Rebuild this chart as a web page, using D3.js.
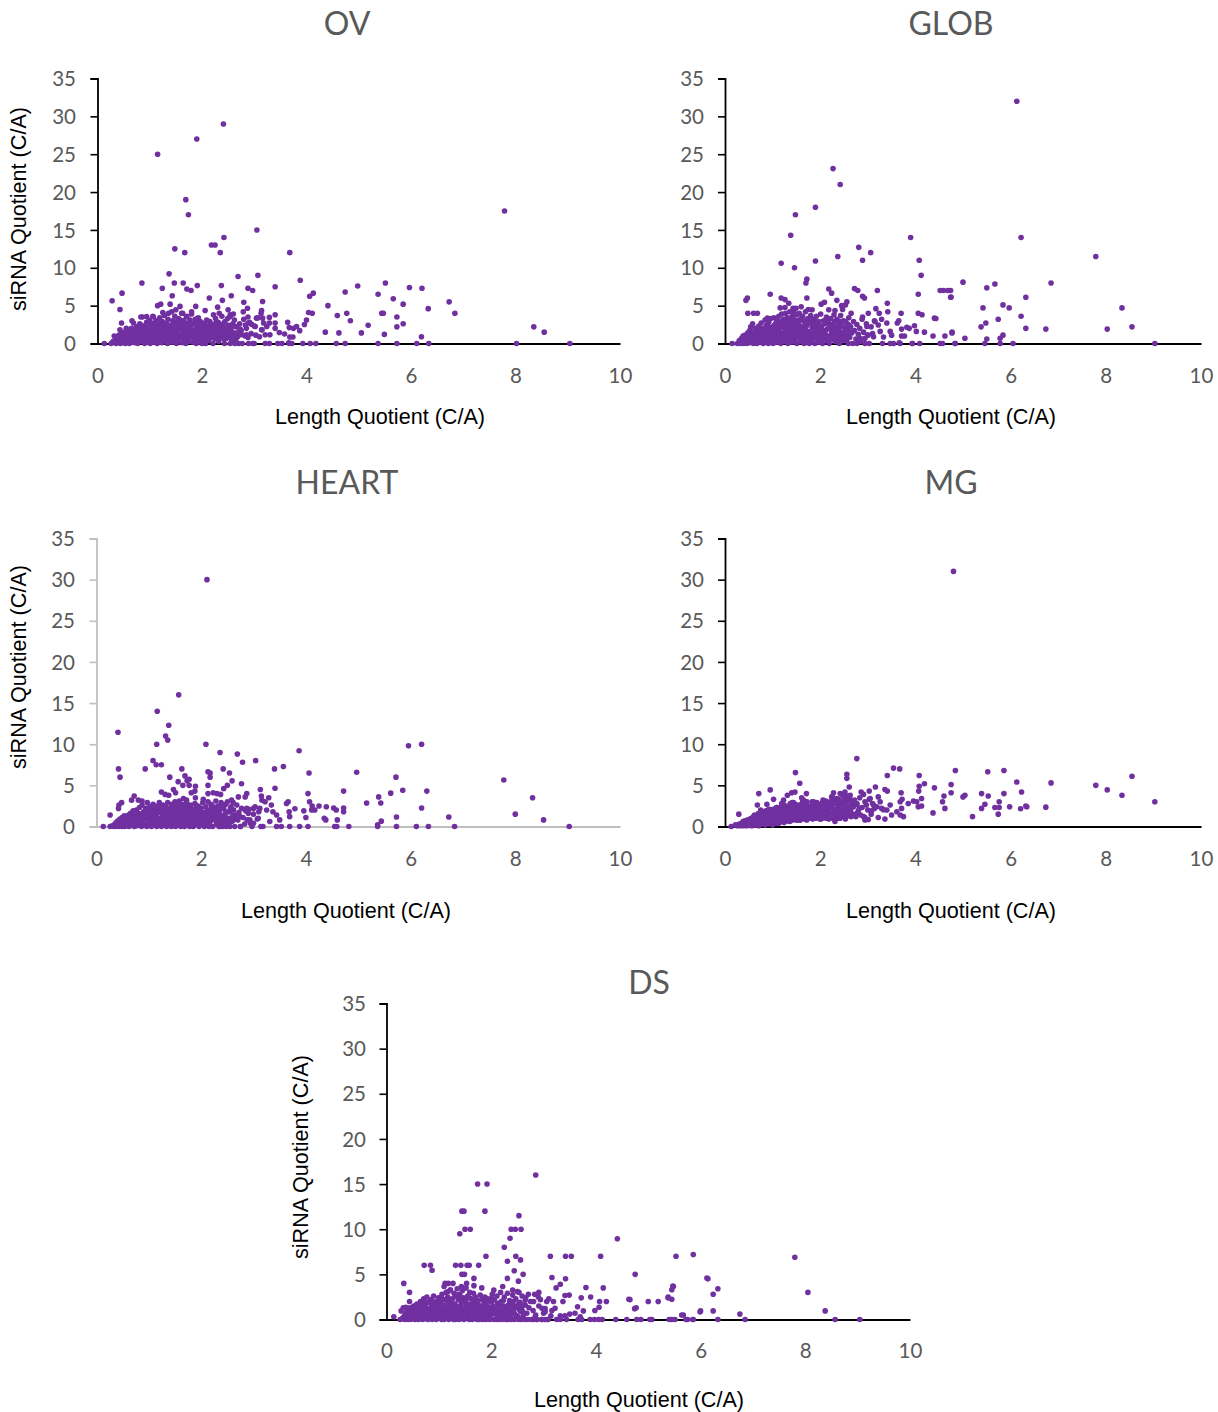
<!DOCTYPE html>
<html><head><meta charset="utf-8">
<script src="https://cdn.jsdelivr.net/npm/d3@7/dist/d3.min.js"></script>
<style>html,body{margin:0;padding:0;background:#fff}svg{display:block}</style>
</head><body><div id="chart"></div>
<script>
const panelTitles = ["OV","GLOB","HEART","MG","DS"];
const xTickValues = [0,2,4,6,8,10];
const yTickValues = [0,5,10,15,20,25,30,35];
const xAxisLabel = "Length Quotient (C/A)";
const yAxisLabel = "siRNA Quotient (C/A)";

// Length quotient of the crowded core of genes, shared by all five tissues.
const coreLength = [
.26,.3,.33,.35,.36,.38,.39,.41,.42,.44,.45,.46,.48,.49,.5,.52,.53,.54,.56,.57,
.58,.6,.61,.62,.63,.65,.66,.67,.69,.7,.71,.72,.74,.75,.76,.77,.79,.8,.81,.82,
.84,.85,.86,.87,.89,.9,.91,.92,.94,.95,.96,.97,.99,1,1.01,1.02,1.03,1.05,1.06,1.07,
1.08,1.09,1.1,1.12,1.13,1.14,1.15,1.16,1.17,1.19,1.2,1.21,1.22,1.23,1.24,1.26,1.27,1.28,1.29,1.3,
1.31,1.32,1.34,1.35,1.36,1.37,1.38,1.39,1.4,1.42,1.43,1.44,1.45,1.46,1.47,1.48,1.5,1.51,1.52,1.53,
1.54,1.55,1.56,1.58,1.59,1.6,1.61,1.62,1.63,1.64,1.66,1.67,1.68,1.69,1.7,1.72,1.73,1.74,1.75,1.77,
1.78,1.79,1.8,1.82,1.83,1.84,1.85,1.87,1.88,1.89,1.9,1.92,1.93,1.94,1.96,1.97,1.98,2,2.01,2.02,
2.03,2.05,2.06,2.07,2.09,2.1,2.11,2.13,2.14,2.15,2.17,2.18,2.19,2.21,2.22,2.24,2.25,2.26,2.28,2.29,
2.31,2.32,2.34,2.35,2.37,2.38,2.4,2.41,2.43,2.44,2.46,2.47,2.49,2.5,2.52,2.54,2.55,2.57,2.59,2.6,
2.62,2.64,2.66,2.68,2.7,2.72,2.75,2.77,2.8,2.83,2.85,2.88,2.91,2.94,2.97,3,3.03,3.07,3.1,3.14,
.47,.51,.55,.59,.62,.64,.68,.71,.73,.78,.83,.88,.93,.98,1.04,1.11,1.18,1.25,1.33,1.41,
.49,.6,.66,.75,.86,.92,1,1.04,1.09,1.15,1.19,1.24,1.28,1.33,1.37,1.42,1.47,1.51,1.55,1.6,
.7,.81,.9,.97,1.03,1.08,1.13,1.17,1.22,1.27,1.31,1.36,1.41,1.46,1.5,1.54,1.58,1.63,1.68,1.72,
1.01,1.07,1.12,1.18,1.23,1.29,1.34,1.39,1.44,1.49,1.53,1.57,1.62,1.66,1.71,1.76,1.81,1.86,1.91,1.95,
1.65,1.7,1.74,1.79,1.83,1.88,1.93,1.99,2.04,2.08,2.12,2.16,2.2,2.23,2.27,2.3,2.33,2.36,2.39,2.42,
1.86,1.91,1.97,2.01,2.06,2.12,2.16,2.23,2.27,2.33,2.36,2.42,2.45,2.48,2.51,2.53,2.56,2.58,2.61,2.65];

const ovCore = [
0,.3,.1,.6,0,.9,.2,1.1,.4,0,.7,1.3,.2,1,.5,1.5,0,.8,1.2,.3,
1.7,.6,0,1.3,.9,2,.2,1.5,.7,1.1,.1,1.8,.4,2.2,1,0,1.4,.6,2.6,1.9,
.3,1.2,3.5,.8,2.3,0,1.6,1,2.8,.5,1.9,.2,3.1,1.3,0,2.4,.7,1.7,3.6,1.1,
.2,2.1,1.4,3,.6,0,2.6,1.8,.9,3.4,.3,2.2,1.2,.1,2.9,1.6,.7,3.7,2,.4,
1.3,2.7,0,3.2,.9,1.9,.5,2.4,1.5,4.2,.2,3,1.1,2.2,.6,3.6,1.7,0,2.8,1.3,
.4,3.3,2,.8,2.5,1.2,4,.1,1.8,3,.6,2.3,1.4,0,3.5,.9,2.7,1.6,.3,3.1,
2.1,1,3.9,.2,1.5,2.6,.7,3.2,1.9,0,2.4,1.2,3.4,.5,1.7,2.9,.9,0,2.2,1.4,
.6,2.7,1.8,0,3.1,1.1,2.3,.4,1.6,2.9,.8,2,1.3,0,2.5,1.7,.6,3.3,2.1,1,
2.8,.3,1.7,2.4,.9,3.6,1.3,2.1,0,2.9,1.5,.7,3.3,2.2,1.1,3.8,1.8,.5,2.6,1.2,
3.1,.9,2.2,1.4,0,2.6,1.7,0,3.2,1,2,.8,2.8,1.3,0,2.3,1.1,3.4,.9,1.8,
.5,.9,1.1,.4,1.4,.7,1,1.7,.5,1.2,2.4,1.6,2.1,1.5,2.7,1.9,2.4,1.1,2.2,1.6,
.2,1.2,.5,1.6,.6,1.4,.9,2,1.1,2.7,1.6,.8,2.4,1.1,1.9,.7,2.6,1.4,2.1,.9,
.4,1.7,.7,1.4,2.2,.9,1.5,2.9,.5,1.9,2.3,1.3,.8,2.9,2.1,1.1,3.1,1.5,2,.7,
.8,1.5,2.6,1,1.9,.5,2.4,1.7,.9,2.5,1.3,2.2,.8,2.8,1.5,2.4,1,1.7,2.7,1.2,
1.2,2.2,.6,1.6,2.6,1,1.6,2.4,.5,1.9,1.4,2.6,.9,1.9,1.2,2.4,.7,1.9,1.4,2.7,
1.5,.5,1.9,1.1,2.2,.7,1.8,1.4,2.7,1.2,2.2,.6,1.9,1,2.4,1.6,.8,2.2,1.4,.6];

const globCore = [
0,.4,0,.7,.2,1,0,.5,1.1,.2,.8,0,1.4,.4,.9,1.7,.1,2.2,.6,1.2,
2.6,0,1.5,.8,2,.3,1.2,0,1.8,.6,2.3,1,.2,1.6,2.7,.5,1.3,0,2,.9,
3.1,.3,1.6,2.4,.7,1.1,0,2.8,1.4,.4,3.3,1.9,.8,2.2,0,1.2,3.4,.6,2.6,1.7,
.2,3,1,2,3.6,.5,1.5,2.7,0,3.9,.8,2.3,1.3,3.2,.3,1.8,4,.7,2.5,1.1,
3.4,0,2,1.4,4.2,.6,2.9,1.7,.2,3.6,1,2.3,4.1,.5,1.3,3.1,2,0,3.8,.9,
2.6,1.5,4,.3,3.2,1.1,2.2,.7,3.6,1.8,0,2.9,1.3,4.2,.5,2.4,1.6,3.3,.9,0,
2.8,1.2,3.7,.4,2.1,1.6,3.2,.8,2.5,0,1.4,3.6,2,.6,1.1,2.9,.2,1.7,3.9,.9,
2.3,0,1.5,3,.7,2.6,1.2,3.5,.4,1.9,2.8,.9,0,2.2,3.3,1.4,.6,2.5,1.8,3.8,
.3,2.1,1.1,3.2,.7,2.7,0,1.6,3.7,.9,2.3,1.4,3,.4,2,1.1,.5,2.6,1.6,3.4,
.8,2.2,1.4,0,2.9,1.7,.6,2.5,1.2,2,.3,3.2,1.5,.7,2.6,1.1,0,2.2,1.3,3,
.6,1,.3,1.3,.7,1.6,.4,1.1,1.9,.6,1.3,2.2,1.6,1,2.4,1.9,2.9,1.2,2.4,1.7,
.3,.9,1.6,.4,1.4,2.1,.7,1.5,2.5,1.4,2.2,.9,2.8,1.6,2.2,1.1,2.7,1.3,3,.8,
.7,1.4,.5,1.9,1.2,2.6,1.7,.9,2.9,1.3,2.2,.6,3,1.6,2.7,.9,2.3,1.2,2.8,1.6,
.6,2.3,1.4,2.9,.9,2.4,1.5,3.4,1,2.6,1.8,.7,3.1,2.1,1.2,2.9,1.5,.8,2.4,1.3,
1,2.2,.7,2.7,1.6,3.1,1.1,2.3,.5,1.7,3,1,2.3,.6,1.7,2.9,1,2.1,1.4,2.9,
1,2.6,.5,1.9,1.2,3,.5,1.9,1,2.9,1.6,.5,2.3,1.3,.7,2.9,1.9,1,2.4,1.5];

const heartCore = [
0,.1,0,.3,0,.5,.1,.7,0,.2,.9,.4,0,1.1,.3,.6,1.3,0,.8,.2,
1,.5,1.4,0,.7,1.6,.2,1.1,.4,1.9,.8,0,1.3,.6,2,.1,1,1.6,.3,2.3,
.7,1.3,0,2.6,.5,1.8,1,.2,2.2,1.4,0,2.9,.7,1.7,.3,2.4,1.1,0,1.9,.6,
2.7,1.2,.2,2.1,.8,1.5,0,2.5,1,.4,2.9,1.7,.6,2.2,0,1.2,2.6,.9,1.9,.3,
1.4,2.4,0,.7,2.9,1.1,1.8,.3,2.2,1,0,2.7,1.5,.5,2,1.2,3,0,.8,1.7,
2.5,.3,1.3,3.1,.9,2,0,1.6,2.7,.5,1.1,2.3,0,1.9,.7,2.9,1.4,.2,2.2,1,
0,1.7,2.6,.6,1.2,2.1,0,.9,2.8,1.5,.3,1.9,1.1,2.5,0,.7,1.6,2.2,.4,1.3,
2.9,.8,0,1.7,2.4,1.1,.4,3,1.5,0,2,.7,2.7,1.2,0,2.2,.9,1.7,3.1,.3,
1.3,2.5,0,1.9,.7,2.9,1.2,0,2.2,.5,1.6,2.7,1,3,.3,1.8,0,2.4,1.1,.7,
2,0,1.4,2.6,.8,1.7,0,2.2,1.1,.3,1.9,.8,2.1,.4,0,1.5,2.4,.9,1.8,0,
.3,.6,.9,.3,1.1,.5,.7,1.3,.5,1,1.5,.8,1.9,1.2,2.3,1.4,.8,1.9,.6,1.5,
.5,.9,.4,1.2,.5,1.6,.8,1.4,.4,1.9,1,2.4,.6,1.5,.9,2.1,1.3,.6,2.5,1.1,
.9,.5,1.3,2,.6,1.4,.9,1.8,.4,1.2,2.3,.7,1.5,.9,2.2,1.4,.6,2,1.2,2.5,
1.6,.4,1.1,1.8,.5,2.2,.9,1.4,2.5,.6,1.8,1.1,2.3,.5,1.4,.9,2,1.5,.5,2.4,
.8,2,1.3,.5,1.5,.9,2.4,1.1,.6,1.7,1.2,.5,2.4,1.6,.8,2,1,1.4,2.5,.6,
1.2,2.3,.5,1.4,.8,1.9,.6,2.4,1,1.5,.6,2.4,1.2,.5,1.8,1,2.2,.6,1.4,.9];

const mgCore = [
.1,.3,.1,.4,.2,.6,.1,.3,.7,.2,.5,.1,.8,.3,.6,.2,.9,.4,.1,.7,
.3,.9,.5,.2,1.1,.6,.3,.8,1.2,.4,.1,1,.6,1.3,.3,.8,1.1,.5,1.4,.7,
.2,1,1.5,.5,.8,1.3,.3,1.6,.7,1.1,.4,1.4,.9,.2,1.7,.6,1.2,.9,1.6,.4,
1,1.8,.7,1.3,.4,1.6,1,2,.6,1.3,1.8,.8,1.1,2.2,.5,1.5,.9,1.9,1.2,.7,
1.6,2.1,.9,1.3,.6,1.8,2.4,1.1,1.5,.8,2,1.3,2.6,.9,1.7,1.1,2.2,1.4,.8,1.9,
1.1,2.4,1.5,.8,2,1.3,2.7,1.7,1,2.2,1.4,.9,1.9,2.6,1.2,1.6,2.1,1,2.4,1.4,
1.8,1.1,2.2,1.5,2.7,.9,1.7,2.1,1.3,2.5,1,1.9,1.4,2.3,1.1,1.7,2.6,1.3,2,.9,
1.5,2.3,1.1,1.8,2.8,1.3,2,1,2.5,1.6,2.1,.9,1.7,3,1.2,2.3,1.5,2.7,1,2,
1.4,2.9,1.8,1.1,2.4,3.3,1.6,2.1,1.2,3,1.9,2.6,1.3,3.6,2.2,1.5,3.1,1.8,2.5,1.3,
3.4,2,2.8,1.5,2.4,3.2,1.2,2.7,1.9,3.5,1.4,2.3,3.9,1.1,2.6,2,3.3,1.5,2.8,2.2,
.7,.2,1,.5,1.4,.3,.9,1.6,.5,1.8,.5,1.2,2.1,.6,1.7,1,2.4,.7,1.9,2.9,
.5,1.2,.2,.9,1.9,.4,1.4,.7,2.3,1.2,.6,2.6,1.4,.8,2.2,1.1,2.7,.9,2.3,1.5,
1.5,.6,2,.4,1.3,2.3,.6,1.6,.9,2.5,1.2,.7,2.8,1.6,.8,2.6,1.2,3,1.5,.8,
2.1,.6,1.5,.9,2.6,1.2,.7,1.9,2.9,1,1.7,.8,2.3,1.5,3,1.1,2.4,1,2.8,1.6,
3.2,.9,1.9,1.2,3,1.4,2.9,.9,2.3,1.1,3.1,1.7,1,2.6,1.3,3.2,2.1,1,2.8,1.6,
3,1.4,2.4,1.1,3.2,1.7,2.6,1.2,3.5,1.8,2.7,1,3.9,1.6,2.9,.9,3.7,2.1,3.2,1.2];

const dsCore = [
0,.1,.3,0,.6,.2,.9,0,1.1,.4,1.3,0,.7,1,.2,1.5,.5,0,1.2,.8,
1.7,.3,0,1.1,.6,2,.2,1.4,0,.9,2.3,.5,1.6,.1,1.2,2.5,0,.7,1.9,1,
.3,2.2,1.3,0,.8,2.6,1.6,.4,1.1,0,2,.6,2.4,1.4,.2,.9,1.8,0,2.8,1.2,
.5,2.2,0,1.6,.9,3,.3,1.3,2.5,0,.7,1.9,3.3,1,.4,2.3,1.5,0,2.9,.8,
1.7,0,1.1,3.4,.5,2.2,1.4,0,2.8,.9,1.8,.3,3.2,1.2,2.4,0,.7,2,3.5,1.5,
.4,2.6,1,0,3,1.7,.6,2.3,1.3,0,2.9,.9,1.9,.2,2.5,1.2,0,2.1,.7,1.6,
0,2.7,.8,1.4,2.2,0,1.1,.5,2.5,1.8,0,.9,2.3,1.4,.3,0,2,1.1,.6,2.8,
1.5,0,2.2,.8,1.2,0,2.6,1.7,.4,0,1.1,3,2,0,.7,1.5,2.5,.3,0,1.3,
2.9,0,1,2.1,.5,0,1.7,2.7,.8,0,1.3,2.3,.4,3.1,0,1.1,1.9,0,2.6,.9,
1.6,0,2.4,.7,0,1.3,2,0,1,2.8,.5,0,1.5,2.2,0,.7,1.2,0,2.3,.4,
.4,.8,1.4,.3,1.2,.6,1.6,.9,2,.5,1.2,2,.7,1.5,2.4,1,2.1,1.4,.6,2.2,
.7,.1,1.3,.5,1.5,.3,.8,2.1,1.3,.6,2.3,1,1.7,.4,2.7,1.4,.7,2.1,1.1,.5,
1,.4,1.6,.7,1.9,.5,1.2,2.1,.8,1.6,2.6,1.1,.5,2,1.3,.7,2.4,1,1.8,.4,
1.4,.6,2.2,1,1.7,.5,2.7,1.2,.6,2,1,1.6,.4,2.2,.8,1.5,.5,2,1.2,.7,
1.7,.6,2.1,1,.4,1.6,.8,2.3,1.2,.6,1.8,.9,.4,2.1,1.3,.7,1.6,.3,1.1,2,
.9,1.5,.3,2,1,.5,1.7,.8,1.3,.4,1.9,1,.6,1.5,.3,1.8,.9,1.3,.4,1.6];

// Sparse points read individually: [length quotient, siRNA quotient]
const ovSparse = [[1.15,25],[1.9,27],[2.41,29],[1.69,19],[1.74,17],[3.05,15],[2.42,14],[2.18,13],[2.25,13],[1.48,12.5],[1.67,12],[2.35,12],[3.68,12],[1.37,9.2],[3.07,9],[2.69,8.85],[3.88,8.35],[.85,8],[1.47,8],[1.64,8],[1.91,7.65],[2.37,7.65],[1.24,7.3],[1.71,7.2],[1.79,7],[2.88,7.3],[2.97,7],[3.4,7.5],[.47,6.65],[.28,5.65],[.43,4.5],[1.43,6.3],[2.14,6],[2.39,5.7],[2.56,6.3],[2.8,5.45],[3.16,5.55],[4.13,6.65],[4.06,6.25],[4.74,6.8],[4.98,7.6],[5.37,6.5],[5.51,8],[5.66,5.9],[5.97,7.4],[6.21,7.3],[5.85,5.2],[6.33,4.6],[6.73,5.5],[6.84,4],[7.79,17.5],[8.35,2.2],[8.55,1.5],[4.41,5],[4.59,3.7],[4.77,4],[4.84,3],[5.18,2.4],[5.05,1.4],[4.36,1.5],[4.62,1.4],[5.44,4],[5.47,4],[5.49,1.2],[5.73,3.5],[5.73,2.2],[5.85,2.6],[6.2,.9],[4.04,4.1],[4.11,4],[4,3.1],[3.96,2.5],[3.81,2.25],[3.87,1.7],[3.93,0],[4.07,0],[4.18,0],[4.57,0],[4.74,0],[5.37,0],[5.73,0],[6.11,0],[6.34,0],[8.02,0],[9.04,0],[2.79,4.2],[2.87,4.65],[2.88,3.5],[2.83,2.45],[2.89,2.7],[2.95,2.55],[2.73,1.9],[2.76,1.15],[2.85,1.15],[3.02,2.25],[3.04,3.35],[3.13,4],[3.14,4.35],[3.16,3.35],[3.18,2.7],[3.15,1.8],[3.24,2.25],[3.29,3.45],[3.29,2.7],[3.4,3.8],[3.4,2.7],[3.4,2],[3.21,1.15],[3.3,1.15],[3.48,1.45],[3.58,1.25],[3.64,2.8],[3.67,2.1],[3.75,2],[3.68,.85],[3.74,.85],[3.66,.1],[2.6,3.9],[2.5,4.45],[2.54,3.55],[2.65,2.25],[2.68,.9],[2.54,0],[2.63,0],[2.89,0],[3,0],[3.21,0],[3.29,0],[3.45,0],[3.53,0],[3.67,0],[3.72,0],[1.15,5],[1.21,5.2],[1.39,5.2],[1.58,4.9],[1.88,4.9],[2.06,4.35],[2.3,4.8],[2.33,4],[1.25,4.1],[1.36,4],[1.5,4.45],[1.63,4],[1.71,3.6],[1.8,4.2],[.66,3],[.69,2.7],[.83,3.5],[.94,3.55],[1.07,3.5],[.46,2.7],[.43,1.8],[.55,2],[.32,1],[.13,0],[.3,.2],[2.22,3.8],[1.91,3.3]];

const globSparse = [[.15,0],[2.27,23.1],[2.42,21],[1.48,17],[1.9,18],[1.38,14.3],[2.81,12.7],[3.06,12],[2.89,11],[2.37,11.5],[1.9,10.9],[1.18,10.6],[1.46,10],[3.9,14],[4.08,11],[4.12,9],[1.72,8.5],[1.7,8],[2.18,7.2],[2.24,6.65],[2.72,7.25],[2.79,7],[3.2,7],[4.59,7],[4.74,7],[4.74,6.1],[4.06,6.5],[2.89,6.25],[2.93,6],[.47,6],[.44,5.7],[.95,6.5],[1.18,6],[1.26,5.8],[1.34,5.3],[1.72,6],[2.35,5.7],[2.56,5.5],[2.53,5.1],[2.09,5.45],[2.02,5.2],[3.41,5.3],[2.45,5],[2.47,4.5],[1.16,4.7],[1.26,4.75],[1.43,4.65],[1.49,4.65],[1.6,4.85],[1.75,4.5],[1.83,4.45],[2.18,4.45],[2.31,4.35],[.48,4],[.6,4],[.68,4],[2.65,4],[3.01,4],[3.17,4.6],[3.24,4],[3.42,4.2],[3.7,4],[4.06,4],[4.14,3.8],[4.4,3.35],[.89,3.35],[2.89,3.5],[3.62,2.7],[3.65,3],[3.98,2.35],[3.82,2.15],[3.87,2],[3.71,1.9],[4.02,1.6],[4.19,1.5],[4.37,1],[4.62,1],[4.77,1.5],[4.57,0],[4.84,0],[3.94,0],[4.09,0],[3.47,0],[3.54,0],[3.31,0],[3.68,0],[3.15,2.9],[3.22,2.45],[3.29,3.2],[3.4,2.7],[3.12,.9],[3.26,1.6],[3.33,.85],[3.47,1.6],[3.5,1.1],[2.98,2.25],[3,1.1],[2.84,.7],[2.77,0],[2.94,0],[2.59,0],[3.71,1],[3.77,1],[3.66,.1],[6.13,32],[6.22,14],[7.79,11.5],[6.85,8],[5,8.1],[5.67,7.85],[5.5,7.35],[4.68,7],[4.52,7],[4.75,6.15],[6.32,6.1],[5.84,5.1],[5.97,4.7],[5.42,4.7],[8.34,4.7],[6.22,3.6],[5.74,3.2],[8.55,2.2],[8.03,1.9],[6.74,1.9],[6.32,2],[5.48,2.7],[5.38,2.2],[4.77,1.4],[5.04,.7],[5.84,1.1],[5.78,.7],[5.5,.6],[9.03,0],[6.05,0],[5.78,0],[5.46,0],[4.83,0],[4.52,0],[3.93,0],[4.43,3.3]];

const heartSparse = [[1.57,16],[1.16,14],[1.38,12.3],[.41,11.45],[1.32,11],[1.36,10.5],[1.15,10],[2.09,10],[2.36,9],[2.69,8.8],[3.87,9.2],[1.08,8],[2.79,7.8],[3.04,8],[1.14,7.5],[1.24,7.5],[.42,7],[.93,7],[1.63,7],[2.42,7],[3.4,7],[3.57,7.3],[.45,6],[1.4,6],[1.69,6.15],[2.13,6.65],[2.17,6.5],[2.17,6],[2.54,6.5],[4.06,6.5],[1.77,5.75],[1.73,5.55],[1.56,5.45],[2.59,5.55],[1.65,5],[1.77,5],[2.13,5],[1.89,4.9],[2.77,5.2],[2.5,5],[2.43,4.6],[3.13,4.5],[3.41,4.65],[1.47,4.5],[1.51,4.1],[1.88,4.3],[1.81,4.1],[4.04,4],[2.87,4],[2.84,3.6],[2.71,3.6],[2.13,4],[2.23,4.1],[2.3,4],[2.37,3.9],[2.58,3.2],[2.61,2.9],[1.24,4.2],[1.31,3.9],[1.38,3.8],[1.66,3.4],[1.72,3.2],[1.89,3.5],[2.04,3.3],[.67,3.2],[.72,3.7],[.8,3.2],[.87,3.1],[.48,2.9],[.43,2.6],[.42,2.2],[.26,1.4],[.13,0],[3.15,3.7],[3.29,3.5],[3.16,3.2],[3.22,3],[3.34,2.6],[3.66,3],[3.63,2.8],[3.79,2.15],[3.96,1.9],[4.12,2.5],[4.11,2],[4.17,2],[4.39,2.4],[4.58,2],[4.35,1],[4,1.1],[4.6,.8],[3.68,1.8],[3.69,1.2],[3.5,.8],[3.31,.6],[3,2.2],[3.12,2.2],[3.25,2],[2.87,2.2],[2.9,1.6],[2.74,1.2],[2.93,.8],[3,.4],[3.09,1],[3.37,1.8],[3.44,1.4],[2.75,0],[3.18,0],[3.44,0],[3.53,0],[3.69,0],[3.88,0],[4.04,0],[4.55,0],[2.48,0],[2.36,0],[2.11,30],[5.96,9.8],[6.21,10],[4.97,6.6],[5.72,6],[7.78,5.65],[5.85,4.4],[5.62,4.05],[5.39,3.6],[6.31,4.3],[5.16,2.85],[5.43,2.85],[4.72,4.3],[8.33,3.5],[8,1.5],[8.54,.8],[6.73,1.15],[6.21,2.25],[4.72,2.25],[4.72,1.8],[4.53,2.25],[4.07,3],[4.25,2.5],[5.44,.65],[5.73,1.15],[5.37,.2],[4.38,.8],[9.03,0],[4.82,0],[6.84,0],[6.34,0],[6.11,0],[5.73,0],[5.37,0],[4.59,0]];

const mgSparse = [[4.8,31],[2.77,8.25],[1.48,6.55],[1.57,5.25],[2.56,6.35],[2.56,5.85],[2.61,4.8],[3.54,7.1],[3.67,7],[3.41,6.2],[4.08,6.2],[4.08,4.9],[4.19,5.2],[3.16,4.8],[3.36,4.5],[3.41,4.3],[4.07,4.3],[3.7,4.1],[4.4,4.7],[4.84,6.8],[4.75,5.1],[4.75,4.1],[4.6,3.7],[4.57,3],[4.62,2.2],[4.37,1.65],[5.04,3.8],[5,3.6],[5.2,1.2],[5.39,4],[5.53,3.7],[5.52,6.65],[5.86,6.8],[6.13,5.4],[6.23,4.2],[5.86,4],[5.46,2.7],[5.39,2.2],[5.67,2.3],[5.76,3],[5.76,2.3],[5.74,1.5],[5.98,2.4],[6.21,2.15],[6.34,2.4],[.71,4],[.95,4.45],[.29,1.5],[.68,2.6],[.88,2.7],[.75,2],[1.02,3.3],[1.23,3.2],[1.19,2.8],[1.31,3.8],[1.4,4.1],[1.47,4.2],[1.71,4],[1.61,3.5],[1.72,3],[1.37,2.8],[2.28,4.1],[2.42,4],[2.52,4.2],[2.63,3.8],[2.24,3.6],[2.49,3.6],[2.35,3.4],[2.03,2.8],[2.17,2.6],[2.86,4.2],[3.03,4.3],[3.22,3.6],[3.05,3.4],[2.94,3],[2.77,2.8],[3.26,3],[3.47,2.6],[3.72,3.3],[3.68,3],[3.96,3.1],[3.85,2.8],[4.03,3],[4.06,2.4],[4.13,2.5],[4.13,3.4],[3.12,2.6],[3.19,2.4],[3.29,2.2],[3.4,2],[3.08,1.9],[3.33,2.05],[3.5,1.4],[3.61,1.8],[3.71,2.2],[3.68,1.4],[3.75,1.2],[3.22,1.1],[3.36,.9],[2.91,1.2],[2.94,.8],[3.01,.85],[2.82,2.2],[2.77,1.6],[2.56,1.4],[2.31,.6],[6.85,5.3],[7.79,5],[8.03,4.45],[8.34,3.8],[8.55,6.1],[9.03,3],[6.74,2.35],[6.32,2.5],[.13,0],[.22,.2]];

const dsSparse = [[2.85,16],[1.74,15],[1.92,15],[1.44,12],[1.48,12],[1.88,12],[2.53,11.5],[1.5,10],[1.6,10],[1.4,9.5],[2.38,10],[2.46,10],[2.57,10],[4.41,8.95],[2.36,9],[2.25,8],[1.9,7],[2.47,7],[2.56,6.6],[2.31,6.45],[3.13,7],[3.42,7],[3.53,7],[4.09,7],[5.53,7],[5.86,7.2],[.72,6],[.84,6],[.87,5.45],[1.32,6],[1.42,6],[1.54,6],[1.58,6],[1.76,6],[1.44,5],[1.49,5],[2.44,5.4],[2.61,5],[4.75,5],[1.67,4.55],[2.31,4.55],[2.52,4.25],[3.16,4.65],[3.42,4.5],[6.14,4.5],[.33,4],[1.12,4],[1.18,4],[1.27,4],[1.53,4],[1.1,3.65],[1.43,3.65],[1.67,3.75],[1.82,3.5],[2.22,3.65],[3.32,3.9],[3.24,3.5],[3.81,3.55],[4.14,3.5],[5.48,3.65],[.44,3],[1.18,3.1],[2.05,3.25],[2.41,3.25],[2.53,3],[2.71,2.8],[2.91,3],[3.41,2.65],[3.49,2.7],[3.72,2.4],[3.9,2.5],[4.63,2.25],[5.38,2.5],[5.45,2.25],[.44,2],[3.19,2],[3.37,2],[4.07,2],[4.2,2],[5,2],[5.19,2],[.28,.95],[.32,1.3],[.37,1.35],[.14,.3],[3.65,1.4],[3.76,.95],[4.06,1.35],[3.98,1],[4.74,1.2],[5.67,.5],[5.99,.85],[3.5,.6],[3.6,.7],[3.7,.3],[3.32,.4],[3.41,.4],[3.06,2],[3.16,1],[3.22,1.25],[2.97,1.25],[3.03,.85],[2.9,2.5],[2.81,2],[2.65,2.15],[2.84,.3],[2.81,0],[2.87,0],[2.97,0],[3.03,0],[3.09,0],[3.25,0],[3.32,0],[3.44,0],[3.66,0],[3.73,0],[3.89,0],[3.97,0],[4.05,0],[4.12,0],[4.38,0],[4.59,0],[4.78,0],[4.86,0],[5.07,0],[5.4,0],[5.51,0],[5.75,0],[5.86,0],[7.8,6.9],[8.05,3],[8.38,.95],[6.12,4.6],[6.33,3.4],[6.24,2.8],[6,.95],[6.24,.95],[6.75,.6],[5.64,.5],[9.04,0],[8.57,0],[6.85,0],[6.33,0],[5.85,0],[5.72,0],[5.45,0],[5.03,0],[5.47,3.7],[5.45,3.3],[5.38,2.4],[4.65,2.2],[4.77,1.3]];

// Page layout of each panel (not data).
const layout = [
 {i:0,x0:97.5,x1:620,y0:343.5,y1:78.5,axis:"#000",tx:347,ty:35,lx:380,ly:424,ytx:21,yty:209,xtb:383,yr:76,core:ovCore,sparse:ovSparse},
 {i:1,x0:725,x1:1201,y0:343.5,y1:78.5,axis:"#000",tx:951,ty:35,lx:951,ly:424,ytx:null,xtb:383,yr:704,core:globCore,sparse:globSparse},
 {i:2,x0:96.5,x1:620,y0:826.5,y1:538.5,axis:"#bfbfbf",tx:347,ty:494,lx:346,ly:918,ytx:21,yty:667,xtb:866,yr:75,core:heartCore,sparse:heartSparse},
 {i:3,x0:725,x1:1201,y0:826.5,y1:538.5,axis:"#000",tx:951,ty:494,lx:951,ly:918,ytx:null,xtb:866,yr:704,core:mgCore,sparse:mgSparse},
 {i:4,x0:386.5,x1:910,y0:1319.5,y1:1003.5,axis:"#000",tx:649,ty:994,lx:639,ly:1407,ytx:303,yty:1157,xtb:1358,yr:366,core:dsCore,sparse:dsSparse}
];

const svg = d3.select("#chart").append("svg").attr("width",1218).attr("height",1412);
const TICKFONT = "Lato, 'Open Sans', sans-serif", LABELFONT = "'Liberation Sans', Arial, sans-serif";

layout.forEach(p=>{
  const x = d3.scaleLinear().domain([0,10]).range([p.x0,p.x1]);
  const y = d3.scaleLinear().domain([0,35]).range([p.y0,p.y1]);
  const g = svg.append("g");

  const gy = g.append("g").attr("transform",`translate(${p.x0},0)`)
    .call(d3.axisLeft(y).tickValues(yTickValues).tickSize(7).tickPadding(0).tickFormat(d3.format("d")));
  const gx = g.append("g").attr("transform",`translate(0,${p.y0})`)
    .call(d3.axisBottom(x).tickValues(xTickValues).tickSize(0).tickPadding(0).tickFormat(d3.format("d")));
  [gy,gx].forEach(a=>{
    a.select(".domain").attr("stroke",p.axis).attr("stroke-width",1.8);
    a.selectAll(".tick line").attr("stroke",p.axis).attr("stroke-width",1.6);
    a.selectAll("text").attr("fill","#595959").style("font-family",TICKFONT).style("font-size","20.5px");
  });
  gy.selectAll("text").attr("x",p.yr-p.x0).attr("dy","0.35em").attr("text-anchor","end");
  gx.selectAll("text").attr("y",p.xtb-p.y0).attr("dy",0).attr("text-anchor","middle");

  const pts = coreLength.map((v,k)=>[v,p.core[k]]).concat(p.sparse);
  g.append("g").selectAll("circle").data(pts).join("circle")
    .attr("cx",d=>x(d[0])).attr("cy",d=>y(d[1])).attr("r",2.8).attr("fill","#7030a0");

  g.append("text").attr("x",p.tx).attr("y",p.ty).attr("text-anchor","middle")
    .attr("fill","#595959").style("font-family",TICKFONT).style("font-size","32px").text(panelTitles[p.i]);
  g.append("text").attr("x",p.lx).attr("y",p.ly).attr("text-anchor","middle")
    .attr("fill","#000").style("font-family",LABELFONT).style("font-size","21.6px").text(xAxisLabel);
  if(p.ytx!==null){
    g.append("text").attr("transform",`translate(${p.ytx+5},${p.yty}) rotate(-90)`).attr("text-anchor","middle")
      .attr("fill","#000").style("font-family",LABELFONT).style("font-size","21.6px").text(yAxisLabel);
  }
});
</script></body></html>
